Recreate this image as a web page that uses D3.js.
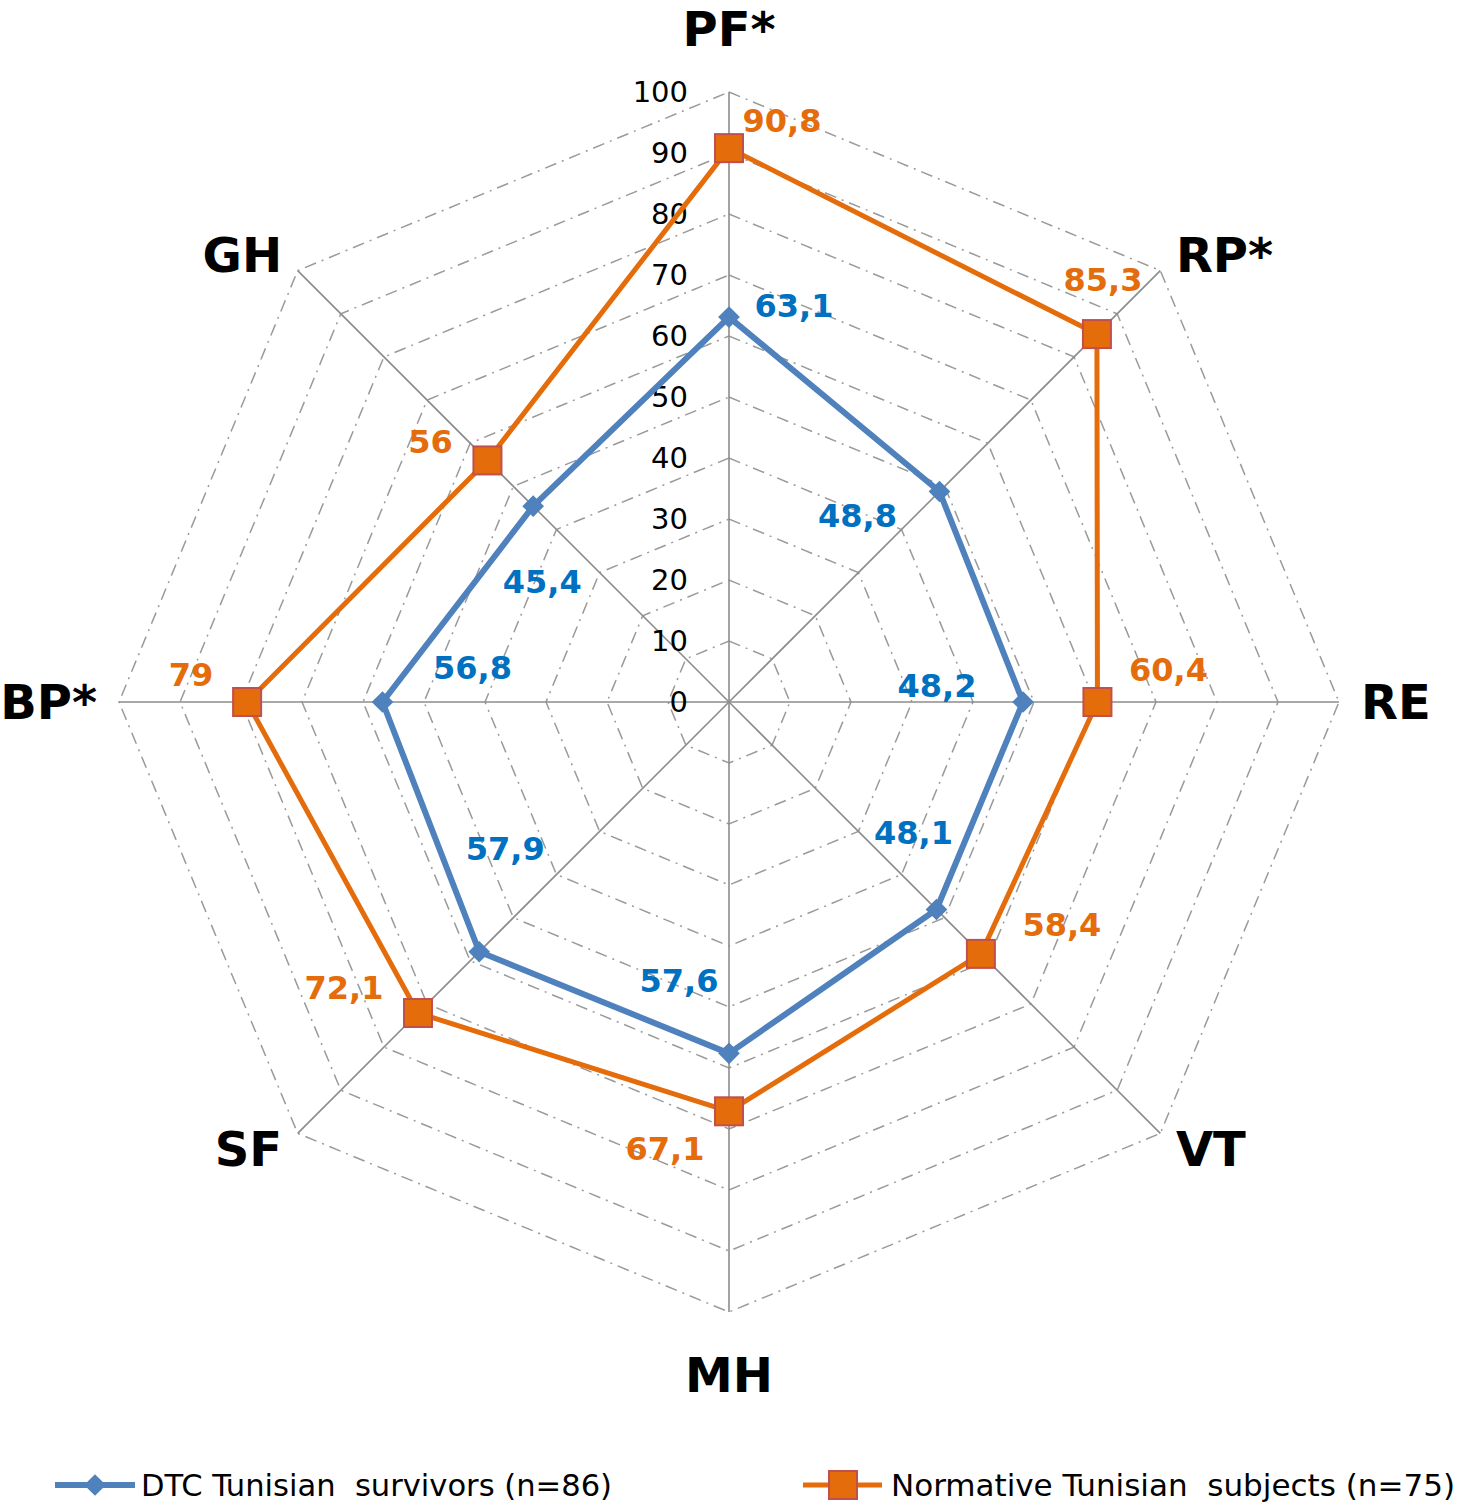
<!DOCTYPE html>
<html>
<head>
<meta charset="utf-8">
<script src="https://cdn.jsdelivr.net/npm/d3@7"></script>
<style>
  body { margin: 0; background: #fff; }
  svg { display: block; }
  .legend-text { white-space: pre; }
</style>
</head>
<body>
<svg id="chart" width="1458" height="1505"></svg>
<script>
// data
const axes = ["PF*", "RP*", "RE", "VT", "MH", "SF", "BP*", "GH"];
const survivors = [63.1, 48.8, 48.2, 48.1, 57.6, 57.9, 56.8, 45.4];
const normative = [90.8, 85.3, 60.4, 58.4, 67.1, 72.1, 79, 56];
const ticks = [0, 10, 20, 30, 40, 50, 60, 70, 80, 90, 100];
const survivorsName = "DTC Tunisian  survivors (n=86)";
const normativeName = "Normative Tunisian  subjects (n=75)";

// label nudges (layout only)
const blueOff = [[65, -12], [-82, 24], [-86, -17], [-23, -77], [-50, -73], [26, -103], [90, -35], [9, 75]];
const orangeOff = [[53, -28], [6, -55], [71, -33], [81, -29], [-64, 37], [-74, -26], [-56, -28], [-57, -19]];

const blue = "#4f81bd", orange = "#e46c0a";
const blueText = "#0070c0", orangeText = "#e46c0a";

const cx = 729, cy = 702, R = 610;
const svg = d3.select("#chart");

let r = d3.scaleLinear().domain([0, 100]).range([0, R]);
let ang = d3.scaleLinear().domain([0, axes.length]).range([0, 2 * Math.PI]);

function pt(i, v) {
  const a = ang(i);
  return [cx + r(v) * Math.sin(a), cy - r(v) * Math.cos(a)];
}

// grid octagons
let grid = svg.append("g");
ticks.filter(t => t > 0).forEach(function(t) {
  grid.append("polygon")
    .attr("points", axes.map((d, i) => pt(i, t).join(",")).join(" "))
    .attr("fill", "none")
    .attr("stroke", "#9a9a9a")
    .attr("stroke-width", 1.5)
    .attr("stroke-dasharray", "12,6,2,6");
});

// spokes
axes.forEach(function(d, i) {
  let p = pt(i, 100);
  grid.append("line")
    .attr("x1", cx).attr("y1", cy)
    .attr("x2", p[0]).attr("y2", p[1])
    .attr("stroke", "#8c8c8c")
    .attr("stroke-width", 1.6);
});

// tick labels
svg.append("g").selectAll("text").data(ticks).join("text")
  .attr("x", 688)
  .attr("y", d => cy - r(d))
  .attr("dy", "0.36em")
  .attr("text-anchor", "end")
  .attr("font-family", "DejaVu Sans, sans-serif")
  .attr("font-size", 29)
  .attr("fill", "#000")
  .text(d => d);

// axis names
svg.append("g").selectAll("text").data(axes).join("text")
  .attr("x", function(d, i) {
    return cx + (R + 22) * Math.sin(ang(i));
  })
  .attr("y", function(d, i) {
    let c = Math.cos(ang(i));
    let y = cy - (R + 22) * c;
    if (Math.abs(Math.sin(ang(i))) < 0.1) y -= 41 * c;
    return y;
  })
  .attr("dy", "0.36em")
  .attr("text-anchor", function(d, i) {
    let s = Math.sin(ang(i));
    return s > 0.1 ? "start" : (s < -0.1 ? "end" : "middle");
  })
  .attr("font-family", "DejaVu Sans, sans-serif")
  .attr("font-weight", "bold")
  .attr("font-size", 48)
  .attr("fill", "#000")
  .text(d => d);

let line = d3.line().curve(d3.curveLinearClosed);

// series lines
svg.append("path")
  .attr("d", line(normative.map((v, i) => pt(i, v))))
  .attr("fill", "none")
  .attr("stroke", orange)
  .attr("stroke-width", 5)
  .attr("stroke-linejoin", "round");

svg.append("path")
  .attr("d", line(survivors.map((v, i) => pt(i, v))))
  .attr("fill", "none")
  .attr("stroke", blue)
  .attr("stroke-width", 6)
  .attr("stroke-linejoin", "round");

// markers
let diamond = d3.symbol().type(d3.symbolDiamond2).size(300);
svg.append("g").selectAll("path").data(survivors).join("path")
  .attr("transform", (d, i) => "translate(" + pt(i, d) + ")")
  .attr("d", diamond)
  .attr("fill", blue);

svg.append("g").selectAll("rect").data(normative).join("rect")
  .attr("x", (d, i) => pt(i, d)[0] - 14)
  .attr("y", (d, i) => pt(i, d)[1] - 14)
  .attr("width", 28).attr("height", 28)
  .attr("fill", orange)
  .attr("stroke", "#c0504d")
  .attr("stroke-width", 2);

// value labels
function fmt(v) { return String(v).replace(".", ","); }

svg.append("g").selectAll("text").data(survivors).join("text")
  .attr("x", (d, i) => pt(i, d)[0] + blueOff[i][0])
  .attr("y", (d, i) => pt(i, d)[1] + blueOff[i][1])
  .attr("dy", "0.36em")
  .attr("text-anchor", "middle")
  .attr("font-family", "DejaVu Sans, sans-serif")
  .attr("font-weight", "bold")
  .attr("font-size", 32)
  .attr("fill", blueText)
  .text(fmt);

svg.append("g").selectAll("text").data(normative).join("text")
  .attr("x", (d, i) => pt(i, d)[0] + orangeOff[i][0])
  .attr("y", (d, i) => pt(i, d)[1] + orangeOff[i][1])
  .attr("dy", "0.36em")
  .attr("text-anchor", "middle")
  .attr("font-family", "DejaVu Sans, sans-serif")
  .attr("font-weight", "bold")
  .attr("font-size", 32)
  .attr("fill", orangeText)
  .text(fmt);

// legend
let legend = svg.append("g").attr("transform", "translate(0,1485)");
legend.append("line").attr("x1", 55).attr("x2", 135).attr("y1", 0).attr("y2", 0)
  .attr("stroke", blue).attr("stroke-width", 6);
legend.append("path").attr("transform", "translate(95,0)").attr("d", diamond).attr("fill", blue);
legend.append("text").attr("class", "legend-text")
  .attr("x", 141).attr("y", 0).attr("dy", "0.36em")
  .attr("font-family", "Liberation Sans Narrow, DejaVu Sans Condensed, sans-serif")
  .attr("font-size", 31)
  .attr("textLength", 471)
  .attr("lengthAdjust", "spacingAndGlyphs")
  .text(survivorsName);

legend.append("line").attr("x1", 803).attr("x2", 882).attr("y1", 0).attr("y2", 0)
  .attr("stroke", orange).attr("stroke-width", 5);
legend.append("rect").attr("x", 829).attr("y", -14).attr("width", 28).attr("height", 28)
  .attr("fill", orange).attr("stroke", "#c0504d").attr("stroke-width", 2);
legend.append("text").attr("class", "legend-text")
  .attr("x", 891).attr("y", 0).attr("dy", "0.36em")
  .attr("font-family", "Liberation Sans Narrow, DejaVu Sans Condensed, sans-serif")
  .attr("font-size", 31)
  .attr("textLength", 564)
  .attr("lengthAdjust", "spacingAndGlyphs")
  .text(normativeName);
</script>
</body>
</html>
